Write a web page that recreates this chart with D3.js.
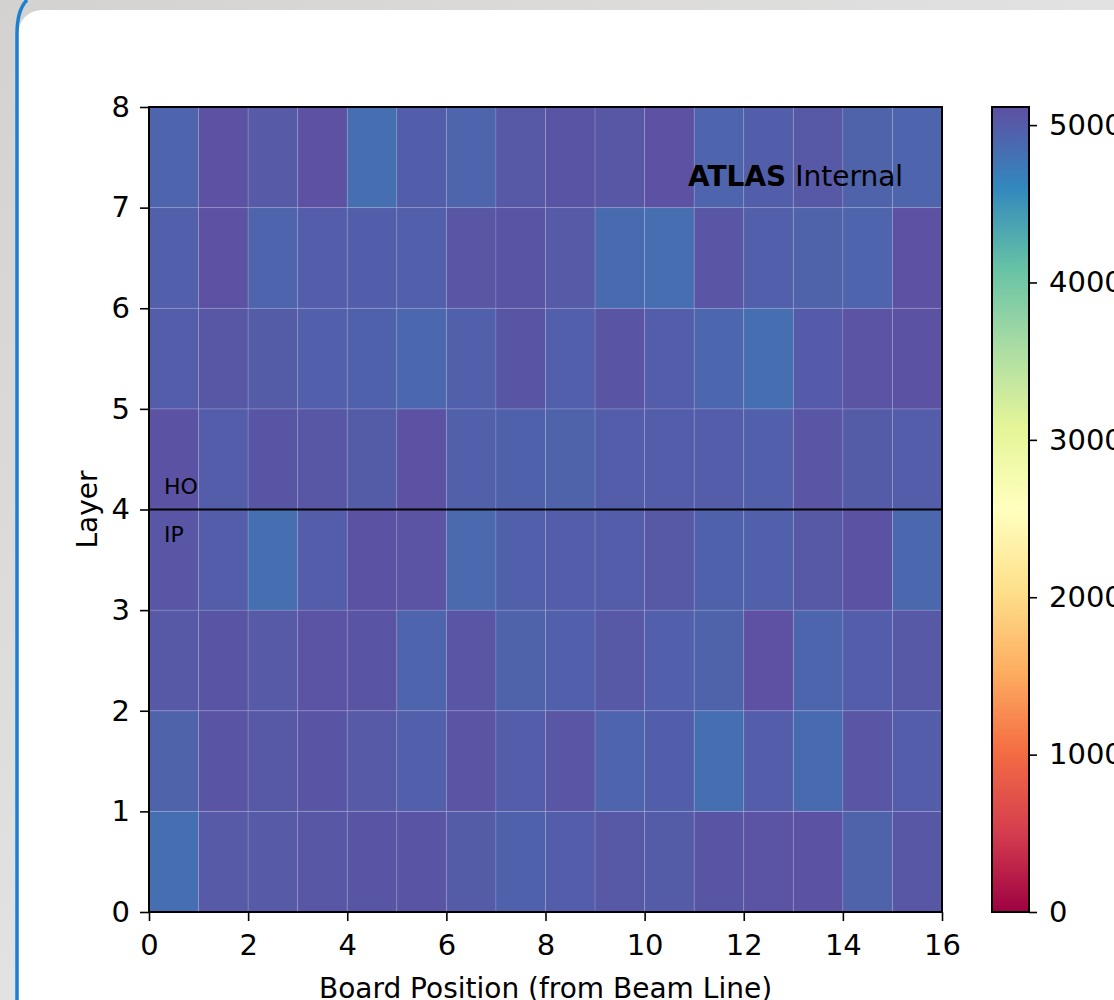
<!DOCTYPE html>
<html lang="en">
<head>
<meta charset="UTF-8">
<title>Board occupancy heatmap</title>
<script src="https://d3js.org/d3.v7.min.js"></script>
<style>
  body { margin: 0; background: #dadada; }
  svg { display: block; }
  text { font-family: "DejaVu Sans", sans-serif; }
</style>
</head>
<body>
<svg id="chart"></svg>
<script>
// layers 0..7 (bottom to top), boards 0..15 (left to right)
const boards = d3.range(16);
const layers = d3.range(8);
const layer0 = [4830, 5020, 5020, 5040, 5060, 5070, 5000, 4950, 4990, 5030, 5000, 5060, 5080, 5090, 4940, 5040];
const layer1 = [4940, 5070, 5030, 5060, 5020, 4970, 5080, 4990, 5050, 4930, 4980, 4830, 4990, 4860, 5050, 4990];
const layer2 = [5030, 5060, 5020, 5080, 5070, 4930, 5050, 4940, 4960, 5030, 4970, 4940, 5110, 4920, 4990, 5030];
const layer3 = [5050, 4990, 4830, 4990, 5090, 5080, 4880, 4960, 4990, 4990, 5030, 4950, 4960, 5030, 5090, 4890];
const layer4 = [5090, 4990, 5060, 5040, 5000, 5100, 4960, 4950, 4940, 4990, 4990, 4990, 4970, 5050, 5000, 4990];
const layer5 = [4990, 5040, 5000, 4970, 4950, 4890, 4960, 5060, 4970, 5070, 4990, 4900, 4830, 5010, 5080, 5090];
const layer6 = [4970, 5100, 4930, 4990, 4980, 4970, 5050, 5070, 5020, 4860, 4840, 5050, 4970, 4940, 4930, 5100];
const layer7 = [4930, 5100, 5020, 5100, 4830, 4980, 4930, 5030, 5070, 5040, 5100, 4930, 4980, 5030, 4940, 4930];
const counts = [layer0, layer1, layer2, layer3, layer4, layer5, layer6, layer7];
const xTicks = [0, 2, 4, 6, 8, 10, 12, 14, 16];
const yTicks = [0, 1, 2, 3, 4, 5, 6, 7, 8];
const cbarTicks = [0, 1000, 2000, 3000, 4000, 5000];
const vMax = 5115;

// matplotlib "Spectral" control colours
const spectral = ["#9e0142", "#d53e4f", "#f46d43", "#fdae61", "#fee08b", "#ffffbf",
                  "#e6f598", "#abdda4", "#66c2a5", "#3288bd", "#5e4fa2"];

const W = 1114, H = 1000;
const svg = d3.select("#chart").attr("width", W).attr("height", H);

// backdrop + white panel
const defs = svg.append("defs");
const bg = defs.append("linearGradient").attr("id", "bg").attr("x1", 0).attr("x2", 1).attr("y1", 0).attr("y2", 1);
bg.append("stop").attr("offset", 0).attr("stop-color", "#d4d2d0");
bg.append("stop").attr("offset", 0.5).attr("stop-color", "#e2e2e2");
bg.append("stop").attr("offset", 1).attr("stop-color", "#cfcfcf");
svg.append("rect").attr("width", W).attr("height", H).attr("fill", "url(#bg)");
svg.append("rect").attr("x", 18).attr("y", 10).attr("width", 1200).attr("height", 1100)
  .attr("rx", 24).attr("fill", "#fff");
svg.append("path").attr("d", "M17,1000 L17,34 Q17,10 27,0")
  .attr("fill", "none").attr("stroke", "#1b80cf").attr("stroke-width", 3.5);

const pL = 149, pR = 942, pT = 107, pB = 912;
const x = d3.scaleLinear().domain([0, 16]).range([pL, pR]);
const y = d3.scaleLinear().domain([0, 8]).range([pB, pT]);
const color = d3.scaleLinear()
  .domain(spectral.map((c, i) => i / 10 * vMax))
  .range(spectral)
  .interpolate(d3.interpolateRgb);

const cells = [];
layers.forEach(l => boards.forEach(b => cells.push({ b, l, v: counts[l][b] })));

svg.append("g").selectAll("rect")
  .data(cells)
  .join("rect")
  .attr("x", d => x(d.b))
  .attr("y", d => y(d.l + 1))
  .attr("width", x(1) - x(0))
  .attr("height", y(0) - y(1))
  .attr("fill", d => color(d.v))
  .attr("stroke", "rgba(255,255,255,0.12)")
  .attr("stroke-width", 1);

// HO / IP divider
svg.append("line")
  .attr("x1", x(0)).attr("x2", x(16)).attr("y1", y(4)).attr("y2", y(4))
  .attr("stroke", "#000").attr("stroke-width", 2.2);

svg.append("text").attr("x", 164).attr("y", 494).attr("font-size", 22).text("HO");
svg.append("text").attr("x", 164).attr("y", 542).attr("font-size", 22).text("IP");

const atlas = svg.append("text").attr("x", 688).attr("y", 186).attr("font-size", 28);
atlas.append("tspan").attr("font-weight", "bold").text("ATLAS");
atlas.append("tspan").text(" Internal");

// axes
const fs = 29;
const gx = svg.append("g").attr("transform", `translate(0,${pB})`)
  .call(d3.axisBottom(x).tickValues(xTicks).tickSize(9).tickPadding(13).tickFormat(d3.format("d")));
const gy = svg.append("g").attr("transform", `translate(${pL},0)`)
  .call(d3.axisLeft(y).tickValues(yTicks).tickSize(9).tickPadding(10).tickFormat(d3.format("d")));
[gx, gy].forEach(g => {
  g.select(".domain").remove();
  g.selectAll("line").attr("stroke", "#000").attr("stroke-width", 1.6);
  g.selectAll("text").attr("font-size", fs).attr("fill", "#000")
    .attr("font-family", "DejaVu Sans");
});
svg.append("rect").attr("x", pL).attr("y", pT).attr("width", pR - pL).attr("height", pB - pT)
  .attr("fill", "none").attr("stroke", "#000").attr("stroke-width", 2);

svg.append("text").attr("x", (pL + pR) / 2).attr("y", 998).attr("text-anchor", "middle")
  .attr("font-size", 28).text("Board Position (from Beam Line)");
svg.append("text").attr("transform", `translate(97,${(pT + pB) / 2}) rotate(-90)`)
  .attr("text-anchor", "middle").attr("font-size", 28).text("Layer");

// colorbar
const cbL = 992, cbR = 1029;
const cy = d3.scaleLinear().domain([0, vMax]).range([pB, pT]);
const grad = defs.append("linearGradient").attr("id", "cbar")
  .attr("x1", 0).attr("x2", 0).attr("y1", 1).attr("y2", 0);
spectral.forEach((c, i) => grad.append("stop").attr("offset", i / 10).attr("stop-color", c));
svg.append("rect").attr("x", cbL).attr("y", pT).attr("width", cbR - cbL).attr("height", pB - pT)
  .attr("fill", "url(#cbar)").attr("stroke", "#000").attr("stroke-width", 2);
const gc = svg.append("g").attr("transform", `translate(${cbR},0)`)
  .call(d3.axisRight(cy).tickValues(cbarTicks).tickSize(8).tickPadding(12).tickFormat(d3.format("d")));
gc.select(".domain").remove();
gc.selectAll("line").attr("stroke", "#000").attr("stroke-width", 1.6);
gc.selectAll("text").attr("font-size", fs).attr("fill", "#000").attr("font-family", "DejaVu Sans");
</script>
</body>
</html>
